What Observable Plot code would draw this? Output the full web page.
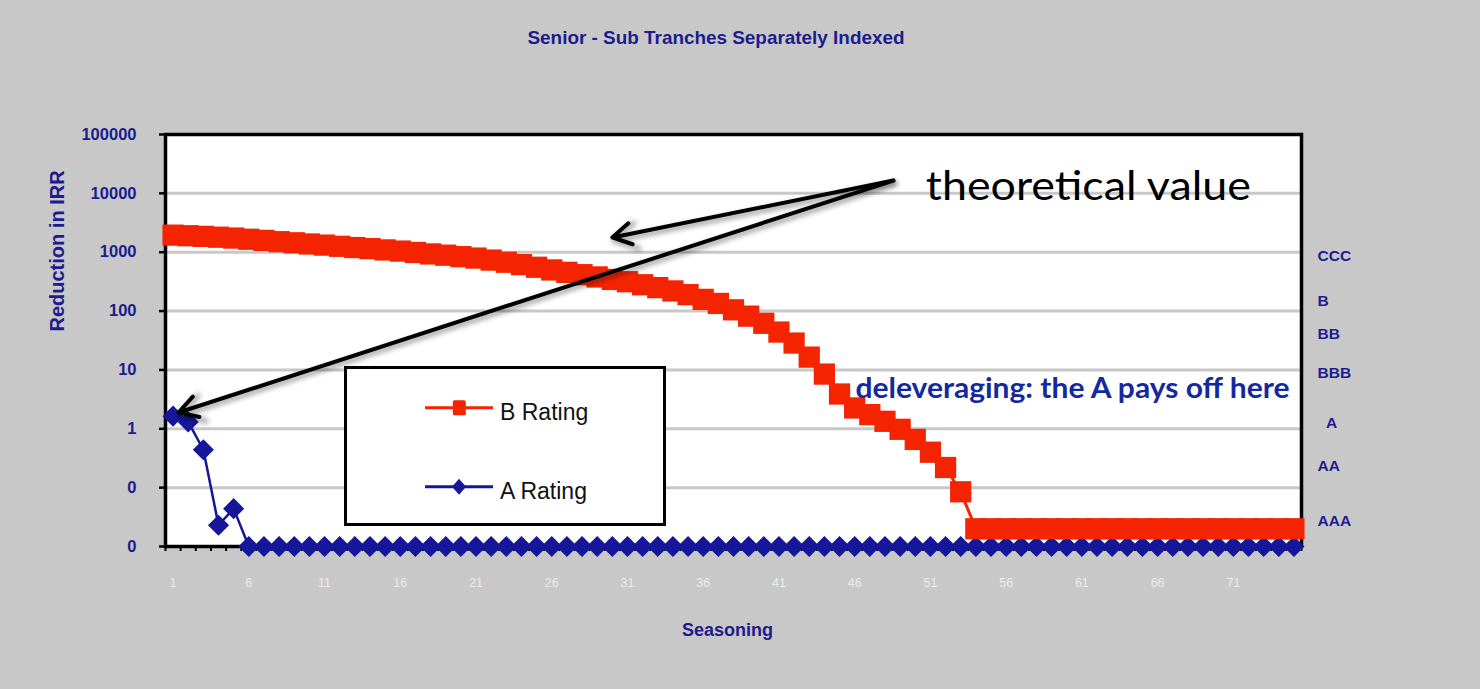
<!DOCTYPE html>
<html><head><meta charset="utf-8">
<script src="https://cdn.jsdelivr.net/npm/d3@7"></script>
<script src="https://cdn.jsdelivr.net/npm/@observablehq/plot@0.6"></script>
<style>
html,body{margin:0;padding:0;background:#c8c8c8;}
#wrap{position:relative;width:1480px;height:689px;overflow:hidden;background:#c8c8c8;}
#legend{position:absolute;left:344px;top:366px;}
</style></head><body><div id="wrap"></div>
<script>
// ---- data ----
const chartTitle = "Senior - Sub Tranches Separately Indexed";
const xTitle = "Seasoning";
const yTitle = "Reduction in IRR";
const seriesNames = ["B Rating", "A Rating"];
const seasoning = [1,2,3,4,5,6,7,8,9,10,11,12,13,14,15,16,17,18,19,20,21,22,23,24,25,26,27,28,29,30,31,32,33,34,35,36,37,38,39,40,41,42,43,44,45,46,47,48,49,50,51,52,53,54,55,56,57,58,59,60,61,62,63,64,65,66,67,68,69,70,71,72,73,74,75];
const bRating = [1950,1905,1860,1800,1740,1660,1590,1510,1445,1380,1320,1260,1200,1150,1095,1045,990,935,890,840,795,735,675,615,555,500,455,415,380,345,315,280,250,220,190,158,135,105,82,62,44,28.6,16.5,8.5,3.9,2.26,1.74,1.34,0.98,0.66,0.40,0.22,0.085,0.02,0.02,0.02,0.02,0.02,0.02,0.02,0.02,0.02,0.02,0.02,0.02,0.02,0.02,0.02,0.02,0.02,0.02,0.02,0.02,0.02,0.02];
const aRating = [1.64,1.31,0.44,0.023,0.044,0.01,0.01,0.01,0.01,0.01,0.01,0.01,0.01,0.01,0.01,0.01,0.01,0.01,0.01,0.01,0.01,0.01,0.01,0.01,0.01,0.01,0.01,0.01,0.01,0.01,0.01,0.01,0.01,0.01,0.01,0.01,0.01,0.01,0.01,0.01,0.01,0.01,0.01,0.01,0.01,0.01,0.01,0.01,0.01,0.01,0.01,0.01,0.01,0.01,0.01,0.01,0.01,0.01,0.01,0.01,0.01,0.01,0.01,0.01,0.01,0.01,0.01,0.01,0.01,0.01,0.01,0.01,0.01,0.01,0.01];
const yTicks = [0.01,0.1,1,10,100,1000,10000,100000];
const xTickLabels = [1,6,11,16,21,26,31,36,41,46,51,56,61,66,71];
const ratingLabels = ["CCC","B","BB","BBB","\u00a0\u00a0A","AA","AAA"];
const ratingLevels = [850,150,41,8.9,1.25,0.23,0.027];
const noteTexts = ["theoretical value"];
const noteX = [50.7];
const noteY = [12600];
const noteBold = ["deleveraging: the A pays off here"];
const noteBoldX = [46.05];
const noteBoldY = [4.8];
const arrowFromX = [48.56, 48.56];
const arrowFromY = [16500, 16500];
const arrowToX = [30.0, 1.36];
const arrowToY = [1780, 1.89];

// ---- styles ----
const RED = "#f52400", BLUE = "#16169a", TXT = "#1c1c8e", NOTE = "#1428a0";
const FONT = "'Liberation Sans', Arial, sans-serif";

const rows = seasoning.map((s, i) => ({s, a: aRating[i], b: bRating[i]}));
const ratings = ratingLabels.map((t, i) => ({t, v: ratingLevels[i]}));
const arrows = arrowFromX.map((x, i) => ({x1: x, y1: arrowFromY[i], x2: arrowToX[i], y2: arrowToY[i]}));
const notes = noteTexts.map((t, i) => ({t, x: noteX[i], y: noteY[i]}));
const notesB = noteBold.map((t, i) => ({t, x: noteBoldX[i], y: noteBoldY[i]}));
const boundaries = d3.range(0.5, seasoning.length + 1, 1);

const chart = Plot.plot({
  width: 1480, height: 689,
  marginLeft: 165, marginRight: 179, marginTop: 134, marginBottom: 143,
  style: {background: "#c8c8c8", fontFamily: FONT, overflow: "visible"},
  x: {domain: [0.5, 75.5], axis: null},
  y: {type: "log", domain: [0.01, 100000], axis: null},
  marks: [
    Plot.frame({fill: "white"}),
    Plot.ruleY(yTicks.slice(1, -1), {stroke: "#c8c8c8", strokeWidth: 3}),
    Plot.axisY({ticks: yTicks, tickFormat: d => d < 1 ? "0" : String(d), tickSize: 6, tickPadding: 23,
      fontSize: 16.5, fontWeight: "bold", fill: TXT, stroke: "black", strokeWidth: 2.5, label: null}),
    Plot.axisX({ticks: xTickLabels, tickSize: 0, tickPadding: 32, fontSize: 12.5, fill: "#ececec", label: null}),
    Plot.axisX({ticks: boundaries, tickSize: 5, tickFormat: () => "", stroke: "black", strokeWidth: 2, label: null}),
    Plot.frame({stroke: "black", strokeWidth: 3.5}),
    Plot.line(rows, {x: "s", y: "a", stroke: BLUE, strokeWidth: 2.5}),
    Plot.dot(rows, {x: "s", y: "a", symbol: "diamond2", r: 9.5, fill: BLUE}),
    Plot.line(rows, {x: "s", y: "b", stroke: RED, strokeWidth: 3}),
    Plot.dot(rows, {x: "s", y: "b", symbol: "square", r: 12, fill: RED}),
    Plot.text(ratings, {y: "v", text: "t", frameAnchor: "right", dx: 16, textAnchor: "start",
      fontSize: 15.5, fontWeight: "bold", fill: TXT}),
    Plot.text([chartTitle], {text: d => d, frameAnchor: "top", dx: -17.5, dy: -104, fontSize: 19, fontWeight: "bold", fill: TXT}),
    Plot.text([xTitle], {text: d => d, frameAnchor: "bottom", dx: -6, dy: 89, fontSize: 18, fontWeight: "bold", fill: TXT}),
    Plot.text([yTitle], {text: d => d, frameAnchor: "left", dx: -108, dy: -9, rotate: -90, fontSize: 20, fontWeight: "bold", fill: TXT}),
    Plot.text(notesB, {x: "x", y: "y", text: "t", textAnchor: "start", fontSize: 28, fontWeight: "bold", fontFamily: "Lato, 'Open Sans', sans-serif", fill: NOTE}),
    Plot.arrow(arrows, {x1: "x1", y1: "y1", x2: "x2", y2: "y2", stroke: "#000", strokeOpacity: 0.35, strokeWidth: 5, dx: 1.5, dy: 3, headLength: 8}),
    Plot.arrow(arrows, {x1: "x1", y1: "y1", x2: "x2", y2: "y2", stroke: "black", strokeWidth: 4, headLength: 8}),
    Plot.text(notes, {x: "x", y: "y", text: "t", textAnchor: "start", fontSize: 40, fontFamily: "Lato, 'Open Sans', sans-serif", fill: "black"})
  ]
});
const wrap = document.getElementById("wrap");
wrap.appendChild(chart);

// soft shadow under the annotation arrows
const defs = d3.select(chart).insert("defs", ":first-child");
defs.append("filter").attr("id", "soft").attr("x", "-10%").attr("y", "-10%").attr("width", "120%").attr("height", "120%")
  .append("feGaussianBlur").attr("stdDeviation", 2.5);
const arrowGroups = d3.select(chart).selectAll("g[aria-label='arrow']").nodes();
if (arrowGroups.length) arrowGroups[0].setAttribute("filter", "url(#soft)");

// fit a few texts to their measured widths
const fit = {"theoretical value": 325, "deleveraging: the A pays off here": 434, [chartTitle]: 377};
d3.select(chart).selectAll("text").each(function() {
  const w = fit[this.textContent];
  if (w) { this.setAttribute("textLength", w); this.setAttribute("lengthAdjust", "spacingAndGlyphs"); }
});

// legend box
const lg = d3.select(wrap).append("svg").attr("id", "legend").attr("width", 322).attr("height", 161);
lg.append("rect").attr("x", 1.5).attr("y", 1.5).attr("width", 319).attr("height", 157)
  .attr("fill", "white").attr("stroke", "black").attr("stroke-width", 3);
const items = [
  {name: seriesNames[0], color: RED, y: 41.7, sym: "square"},
  {name: seriesNames[1], color: BLUE, y: 120.7, sym: "diamond"}
];
items.forEach(it => {
  lg.append("line").attr("x1", 81).attr("x2", 149).attr("y1", it.y).attr("y2", it.y)
    .attr("stroke", it.color).attr("stroke-width", 3);
  if (it.sym === "square") {
    lg.append("rect").attr("x", 115.3 - 6.5).attr("y", it.y - 7.5).attr("width", 13).attr("height", 15)
      .attr("rx", 1.5).attr("fill", it.color);
  } else {
    lg.append("path").attr("d", `M115,${it.y - 8}L122,${it.y}L115,${it.y + 8}L108,${it.y}Z`).attr("fill", it.color);
  }
  lg.append("text").attr("x", 156).attr("y", it.y + 12).attr("font-family", FONT)
    .attr("font-size", 23).attr("fill", "#111").text(it.name);
});
</script></body></html>
